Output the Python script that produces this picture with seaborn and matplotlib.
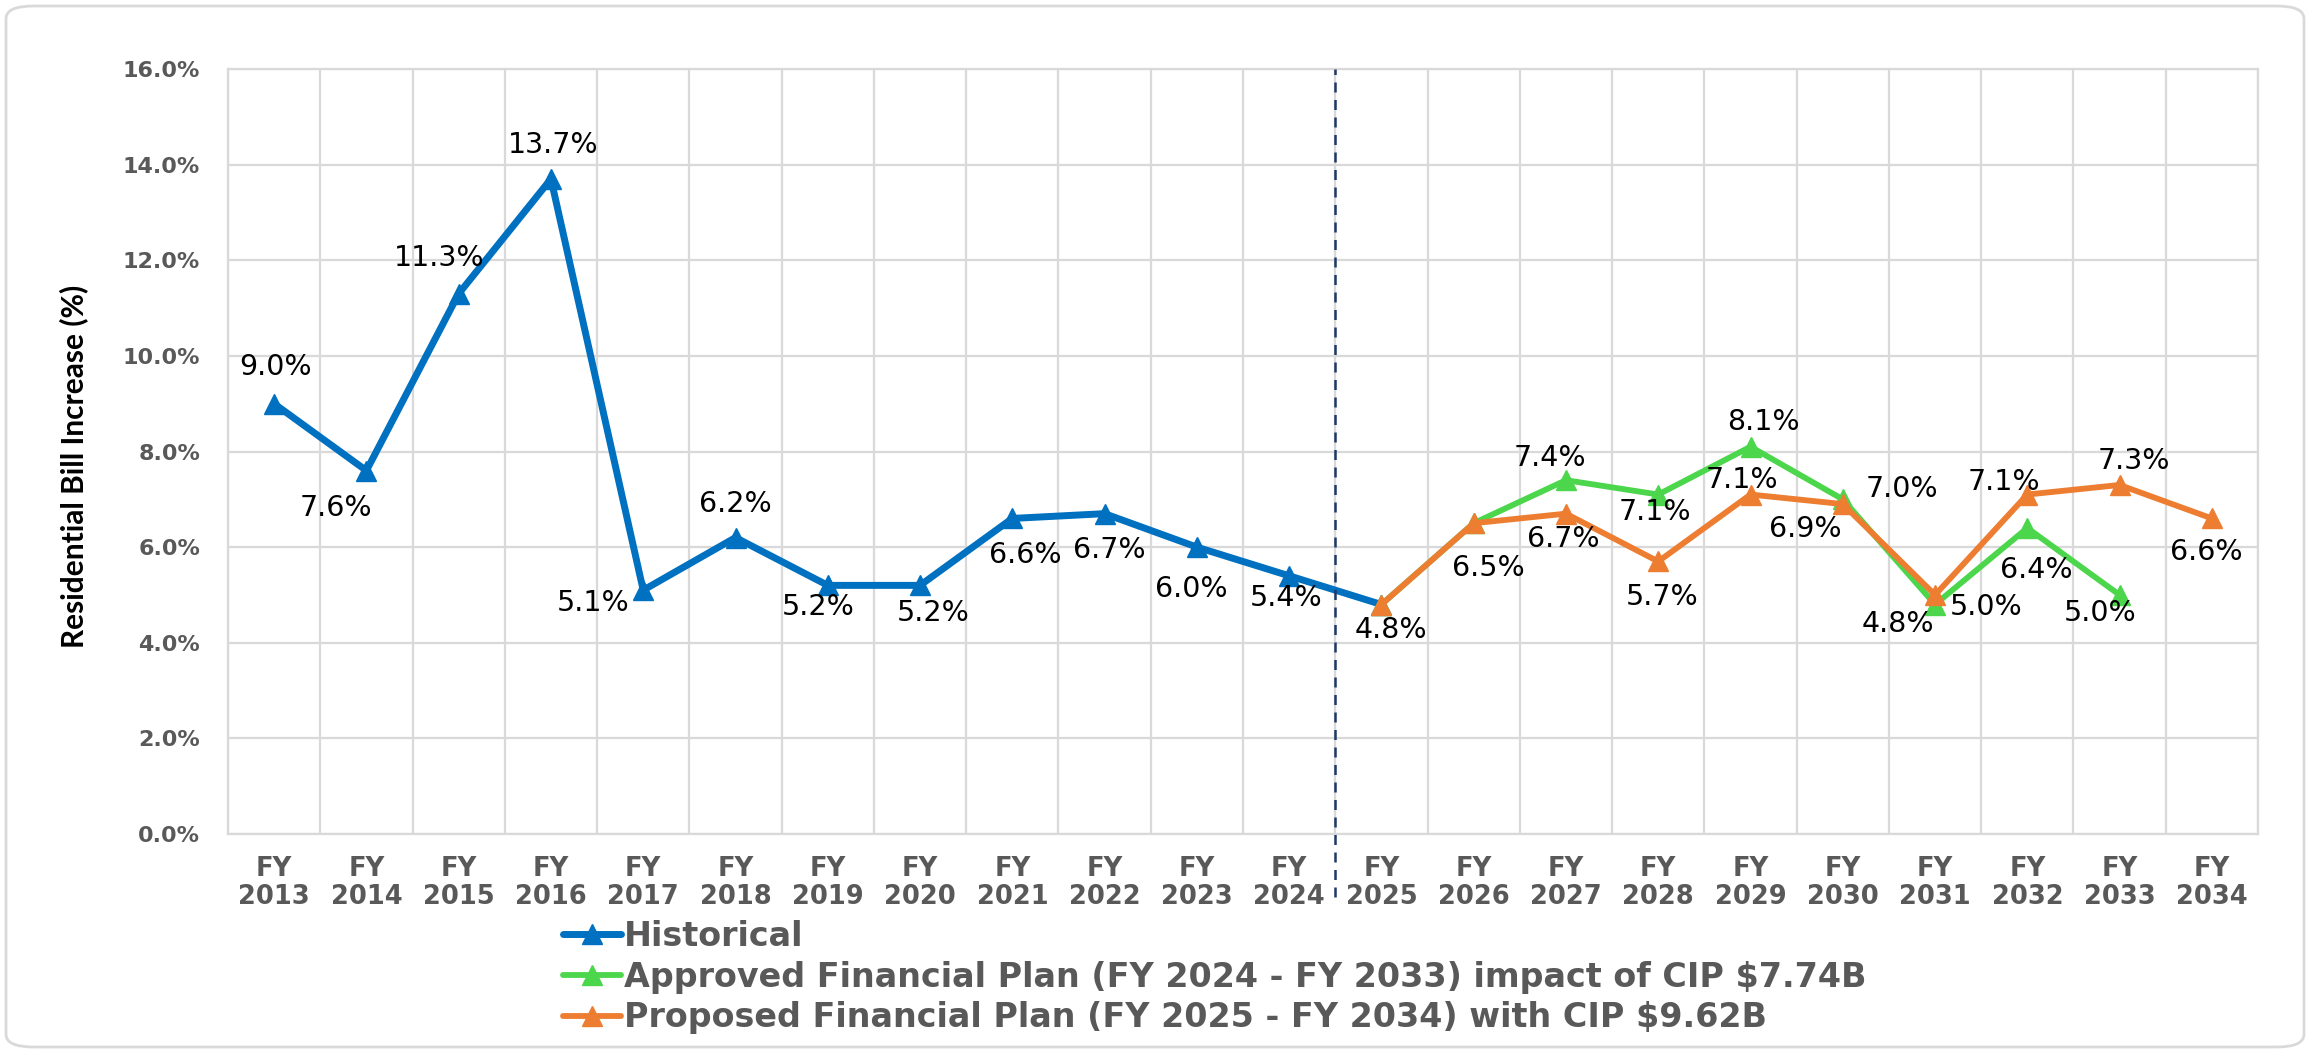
import numpy as np
import pandas as pd
import matplotlib
matplotlib.use("Agg")
import matplotlib.pyplot as plt
from matplotlib.patches import FancyBboxPatch
import seaborn as sns

# ---- data -------------------------------------------------------------
years = list(range(2013, 2035))
tick_labels = [f"FY\n{y}" for y in years]

hist_years = list(range(2013, 2026))
hist_vals = [9.0, 7.6, 11.3, 13.7, 5.1, 6.2, 5.2, 5.2, 6.6, 6.7, 6.0, 5.4, 4.8]

appr_years = list(range(2025, 2034))
appr_vals = [4.8, 6.5, 7.4, 7.1, 8.1, 7.0, 4.8, 6.4, 5.0]

prop_years = list(range(2025, 2035))
prop_vals = [4.8, 6.5, 6.7, 5.7, 7.1, 6.9, 5.0, 7.1, 7.3, 6.6]

series_names = [
    "Historical",
    "Approved Financial Plan (FY 2024 - FY 2033) impact of CIP $7.74B",
    "Proposed Financial Plan (FY 2025 - FY 2034) with CIP $9.62B",
]
series_colors = ["#0070C0", "#4CD64C", "#ED7D31"]

# label offsets in pixels (dx right, dy down); None = no label
hist_off = [(1, -37), (-30, 37), (-19, -36), (2, -34), (-50, 13), (0, -34),
            (-10, 22), (13, 28), (13, 37), (5, 36), (-6, 42), (-3, 22), (10, 25)]
appr_off = [None, None, (-16, -22), (-3, 17), (13, -25), (59, -10),
            (-37, 20), (9, 42), (-19, 18)]
prop_off = [None, (15, 45), (-3, 25), (4, 36), (-9, -15), (-37, 25),
            (51, 12), (-23, -13), (14, -24), (-6, 34)]

# ---- figure -----------------------------------------------------------
sns.set_theme(style="white")
plt.rcParams["font.family"] = ["DejaVu Sans"]

W, H = 2310, 1053
fig = plt.figure(figsize=(W / 100, H / 100), dpi=100)
fig.patch.set_facecolor("white")

# rounded outer frame
frame = FancyBboxPatch((6 / W, 6 / H), 1 - 12 / W, 1 - 12 / H,
                       boxstyle="round,pad=0,rounding_size=0.012",
                       transform=fig.transFigure, fill=False,
                       edgecolor="#D9D9D9", linewidth=2.0)
fig.patches.append(frame)

ax = fig.add_axes([228 / W, 1 - 834 / H, (2258 - 228) / W, (834 - 69) / H])

idx = {y: i for i, y in enumerate(years)}
frames = []
for name, ys, vs in zip(series_names,
                        [hist_years, appr_years, prop_years],
                        [hist_vals, appr_vals, prop_vals]):
    frames.append(pd.DataFrame({"pos": [idx[y] for y in ys],
                                "value": vs, "series": name}))
df = pd.concat(frames, ignore_index=True)

for name, color, lw in zip(series_names, series_colors, [5.0, 4.2, 4.2]):
    sub = df[df["series"] == name]
    sns.lineplot(data=sub, x="pos", y="value", ax=ax, color=color,
                 linewidth=lw, marker="^", markersize=14,
                 markeredgecolor=color, markeredgewidth=1.0,
                 label=name, sort=False, zorder=3)

# value labels
for (ys, vs, offs) in [(hist_years, hist_vals, hist_off),
                       (appr_years, appr_vals, appr_off),
                       (prop_years, prop_vals, prop_off)]:
    for y, v, o in zip(ys, vs, offs):
        if o is None:
            continue
        ax.annotate(f"{v:.1f}%", (idx[y], v),
                    xytext=(o[0] * 0.72, -o[1] * 0.72),
                    textcoords="offset points", ha="center", va="center",
                    fontsize=20.5, color="black", zorder=5)

# axes styling
ax.set_xlim(-0.5, len(years) - 0.5)
ax.set_ylim(0, 16)
ax.set_yticks(np.arange(0, 17, 2))
ax.set_yticklabels([f"{v:.1f}%" for v in np.arange(0, 17, 2)])
ax.set_xticks(range(len(years)))
ax.set_xticklabels(tick_labels, linespacing=1.1)
ax.set_xticks(np.arange(-0.5, len(years), 1), minor=True)

ax.grid(axis="y", which="major", color="#D9D9D9", linewidth=1.6, zorder=0)
ax.grid(axis="x", which="minor", color="#D9D9D9", linewidth=1.6, zorder=0)
ax.grid(axis="x", which="major", visible=False)
for s in ax.spines.values():
    s.set_color("#D9D9D9")
    s.set_linewidth(1.6)

ax.tick_params(axis="both", which="both", length=0)
ax.tick_params(axis="y", pad=20, labelsize=16, labelcolor="#595959")
ax.tick_params(axis="x", pad=16, labelsize=18.5, labelcolor="#595959")
for t in ax.get_xticklabels() + ax.get_yticklabels():
    t.set_fontweight("bold")

ax.set_xlabel("")
ax.set_ylabel("Residential Bill Increase (%)", fontsize=21.5,
              fontweight="bold", color="black", family=["Lato", "DejaVu Sans"])
ax.yaxis.set_label_coords(-0.069, 0.48)

# separator between history and forecast
ax.axvline(11.5, ymin=-0.082, ymax=1.0, color="#1F3864", linewidth=1.8,
           linestyle=(0, (4, 3)), clip_on=False, zorder=4)

leg = ax.legend(loc="upper left", bbox_to_anchor=(563 / W, 1 - 920 / H),
                bbox_transform=fig.transFigure, frameon=False,
                prop={"size": 24, "weight": "bold"},
                handlelength=1.75, handletextpad=0.08,
                labelspacing=0.23, borderaxespad=0, borderpad=0)
for t in leg.get_texts():
    t.set_color("#595959")

fig.savefig("out.png", dpi=100, facecolor="white")
